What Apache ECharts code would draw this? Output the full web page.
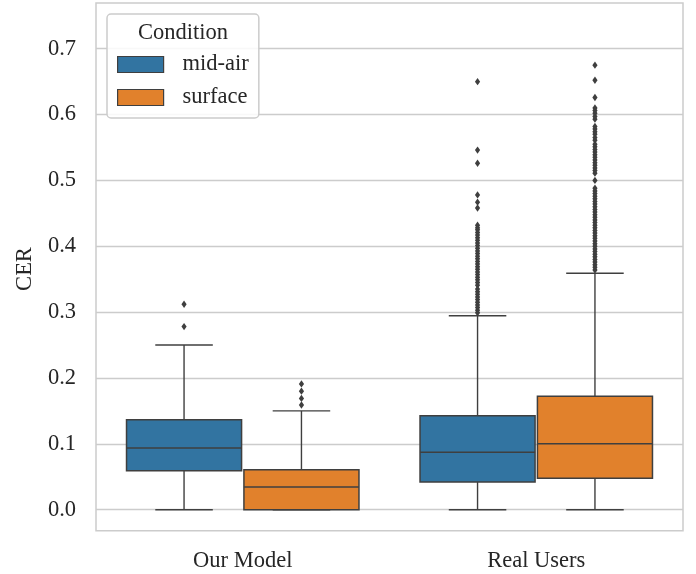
<!DOCTYPE html>
<html><head><meta charset="utf-8">
<script src="https://cdn.jsdelivr.net/npm/echarts@6/dist/echarts.min.js"></script>
<style>html,body{margin:0;padding:0;background:#fff}#c{width:696px;height:574px}</style>
</head><body><div id="c"></div>
<script>
const categories = ['Our Model', 'Real Users'];
const hues = ['mid-air', 'surface'];
const yTickValues = [0, 0.1, 0.2, 0.3, 0.4, 0.5, 0.6, 0.7];
// box stats per category: [lowerWhisker, q1, median, q3, upperWhisker]
const midAirStats = [
  [0, 0.0592, 0.0937, 0.1367, 0.250],
  [0, 0.0420, 0.0871, 0.1427, 0.2946]
];
const surfaceStats = [
  [0, 0.0, 0.0345, 0.0607, 0.150],
  [0, 0.0476, 0.1002, 0.1722, 0.359]
];
const midAirOutliersOurModel = [0.312, 0.278];
const surfaceOutliersOurModel = [0.191, 0.180, 0.169, 0.159];
const midAirOutliersRealUsers = [0.650, 0.546, 0.526, 0.478, 0.467, 0.458,
  0.432, 0.428, 0.425, 0.421, 0.417, 0.413, 0.409, 0.405, 0.401, 0.397, 0.393,
  0.389, 0.385, 0.381, 0.377, 0.373, 0.369, 0.365, 0.361, 0.357, 0.353, 0.349,
  0.345, 0.341, 0.335, 0.331, 0.327, 0.323, 0.319, 0.315, 0.311, 0.307, 0.303, 0.299];
const surfaceOutliersRealUsers = [0.675, 0.652, 0.626, 0.610, 0.606, 0.602, 0.597,
  0.593, 0.582, 0.578, 0.574, 0.570, 0.565, 0.561, 0.555, 0.551, 0.547, 0.543,
  0.539, 0.535, 0.531, 0.527, 0.523, 0.519, 0.515, 0.511, 0.500, 0.488, 0.484,
  0.480, 0.476, 0.472, 0.468, 0.464, 0.460, 0.456, 0.452, 0.448, 0.444, 0.440,
  0.436, 0.432, 0.428, 0.424, 0.420, 0.416, 0.412, 0.408, 0.404, 0.400, 0.396,
  0.392, 0.388, 0.384, 0.380, 0.376, 0.372, 0.368, 0.364];

const COLORS = ['#3274a1', '#e1812c'];
const LINE = '#3f3f3f';
const FONT = 'Liberation Serif';
const TEXT = '#262626';
const FS = 22.5;

function boxData(stats) { return stats.map((s, i) => [i].concat(s)); }
function outData(lists) {
  const out = [];
  lists.forEach((l, i) => l.forEach(v => out.push([i, v])));
  return out;
}
function boxRender(offset, color) {
  return function (params, api) {
    const c = api.value(0);
    const band = api.size([1, 0])[0];
    const cx = api.coord([c, 0])[0] + offset * band;
    const ys = [1, 2, 3, 4, 5].map(k => api.coord([c, api.value(k)])[1]);
    const w = 0.392 * band, cap = w / 2;
    const ls = { stroke: LINE, lineWidth: 1.4, fill: null };
    return { type: 'group', children: [
      { type: 'line', shape: { x1: cx, y1: ys[0], x2: cx, y2: ys[1] }, style: ls },
      { type: 'line', shape: { x1: cx, y1: ys[3], x2: cx, y2: ys[4] }, style: ls },
      { type: 'line', shape: { x1: cx - cap / 2, y1: ys[0], x2: cx + cap / 2, y2: ys[0] }, style: ls },
      { type: 'line', shape: { x1: cx - cap / 2, y1: ys[4], x2: cx + cap / 2, y2: ys[4] }, style: ls },
      { type: 'rect', shape: { x: cx - w / 2, y: ys[3], width: w, height: ys[1] - ys[3] },
        style: { fill: color, stroke: LINE, lineWidth: 1.5 } },
      { type: 'line', shape: { x1: cx - w / 2, y1: ys[2], x2: cx + w / 2, y2: ys[2] }, style: { stroke: LINE, lineWidth: 1.5 } }
    ]};
  };
}
function outRender(offset) {
  return function (params, api) {
    const c = api.value(0);
    const band = api.size([1, 0])[0];
    const p = api.coord([c, api.value(1)]);
    const x = p[0] + offset * band, y = p[1];
    return { type: 'polygon', shape: { points: [[x, y - 3.7], [x + 2.6, y], [x, y + 3.7], [x - 2.6, y]] },
      style: { fill: LINE, stroke: null } };
  };
}

const chart = echarts.init(document.getElementById('c'), null, { renderer: 'canvas' });
chart.setOption({
  animation: false,
  backgroundColor: '#fff',
  textStyle: { fontFamily: FONT },
  grid: { left: 96, right: 13, top: 48.7, bottom: 64.3, containLabel: false },
  xAxis: {
    type: 'category', data: categories,
    axisLine: { show: false }, axisTick: { show: false },
    axisLabel: { fontFamily: FONT, fontSize: FS, color: TEXT, margin: 40 },
    splitLine: { show: false }
  },
  yAxis: {
    type: 'value', min: yTickValues[0], max: yTickValues[yTickValues.length - 1], interval: 0.1,
    axisLine: { show: false }, axisTick: { show: false },
    axisLabel: { fontFamily: FONT, fontSize: FS, color: TEXT, margin: 20, formatter: v => v.toFixed(1) },
    splitLine: { lineStyle: { color: '#cccccc', width: 1.4 } }
  },
  legend: {
    data: hues, orient: 'vertical', left: 107, top: 14,
    padding: [39, 10, 9, 10], itemWidth: 46, itemHeight: 16, itemGap: 10,
    icon: 'rect', borderColor: '#cccccc', borderWidth: 1.5, borderRadius: 4,
    backgroundColor: 'rgba(255,255,255,0.85)',
    itemStyle: { borderColor: LINE, borderWidth: 1.2 },
    textStyle: { fontFamily: FONT, fontSize: FS, color: TEXT, padding: [0, 0, 0, 14] }
  },
  graphic: [
    { type: 'rect', shape: { x: 96, y: 3, width: 587, height: 527.7 }, silent: true, z: 0,
      style: { fill: null, stroke: '#cccccc', lineWidth: 1.5 } },
    { type: 'text', x: 183, y: 33, z: 100, style: { text: 'Condition', fontFamily: FONT, fontSize: FS, fill: TEXT, align: 'center', verticalAlign: 'middle' } },
    { type: 'text', x: 25, y: 269, rotation: Math.PI / 2, style: { text: 'CER', fontFamily: FONT, fontSize: FS, fill: TEXT, align: 'center', verticalAlign: 'middle' } }
  ],
  series: [
    { name: hues[0], type: 'custom', itemStyle: { color: COLORS[0] }, renderItem: boxRender(-0.2, COLORS[0]),
      encode: { x: 0, y: [1, 2, 3, 4, 5] }, data: boxData(midAirStats), z: 2 },
    { name: hues[1], type: 'custom', itemStyle: { color: COLORS[1] }, renderItem: boxRender(0.2, COLORS[1]),
      encode: { x: 0, y: [1, 2, 3, 4, 5] }, data: boxData(surfaceStats), z: 2 },
    { name: 'mid-air outliers', type: 'custom', renderItem: outRender(-0.2), encode: { x: 0, y: 1 },
      data: outData([midAirOutliersOurModel, midAirOutliersRealUsers]), z: 3 },
    { name: 'surface outliers', type: 'custom', renderItem: outRender(0.2), encode: { x: 0, y: 1 },
      data: outData([surfaceOutliersOurModel, surfaceOutliersRealUsers]), z: 3 }
  ]
});
</script></body></html>
